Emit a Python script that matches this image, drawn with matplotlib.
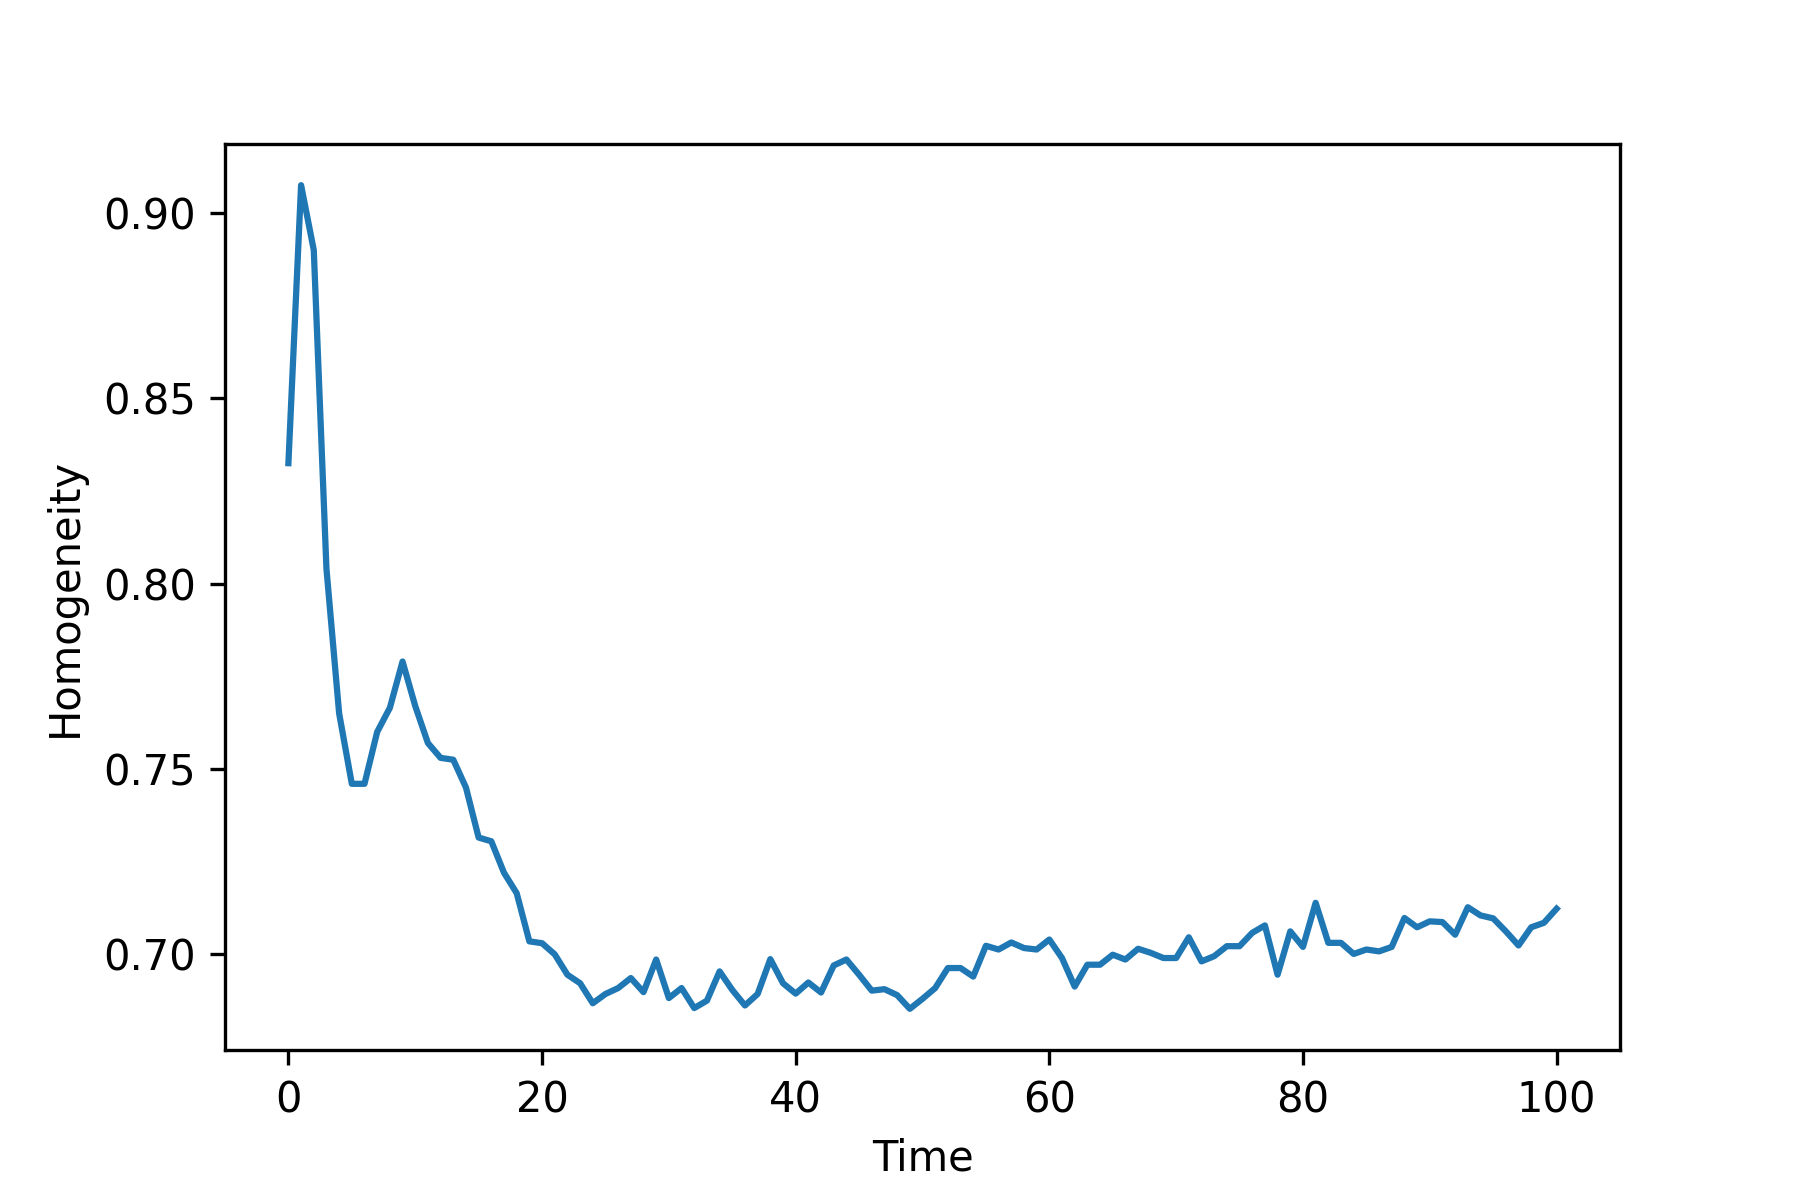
import numpy as np
import matplotlib
matplotlib.use('Agg')
import matplotlib.pyplot as plt

# homogeneity per time step
time = np.arange(0, 101)
homogeneity = [
    0.8325, 0.9075, 0.890, 0.804, 0.765, 0.746, 0.746, 0.760, 0.7665, 0.779,
    0.767, 0.757, 0.753, 0.7525, 0.745, 0.7315, 0.7305, 0.722, 0.7165, 0.7035,
    0.703, 0.700, 0.6945, 0.6922, 0.6868, 0.6893, 0.6909, 0.6936, 0.6898, 0.6986,
    0.6882, 0.6909, 0.6855, 0.6875, 0.6954, 0.6904, 0.6862, 0.6893, 0.6987, 0.6922,
    0.6894, 0.6924, 0.6897, 0.6970, 0.6986, 0.6945, 0.6902, 0.6906, 0.6890, 0.6853,
    0.6880, 0.6909, 0.6963, 0.6963, 0.6940, 0.7023, 0.7013, 0.7032, 0.7017, 0.7013,
    0.7040, 0.6990, 0.6913, 0.6972, 0.6972, 0.6999, 0.6986, 0.7015, 0.7004, 0.6990,
    0.6990, 0.7046, 0.6981, 0.6995, 0.7022, 0.7022, 0.7058, 0.7078, 0.6945, 0.7062,
    0.7020, 0.7139, 0.7031, 0.7031, 0.7001, 0.7013, 0.7008, 0.7020, 0.7098, 0.7073,
    0.7089, 0.7087, 0.7053, 0.7127, 0.7105, 0.7097, 0.7062, 0.7024, 0.7073, 0.7085,
    0.7123,
]

fig, ax = plt.subplots(figsize=(6, 4), dpi=300)
fig.subplots_adjust(left=0.125, right=0.9, bottom=0.125, top=0.88)

ax.plot(time, homogeneity)
ax.set_xlabel('Time')
ax.set_ylabel('Homogeneity')

fig.savefig('out.png', dpi=300)
